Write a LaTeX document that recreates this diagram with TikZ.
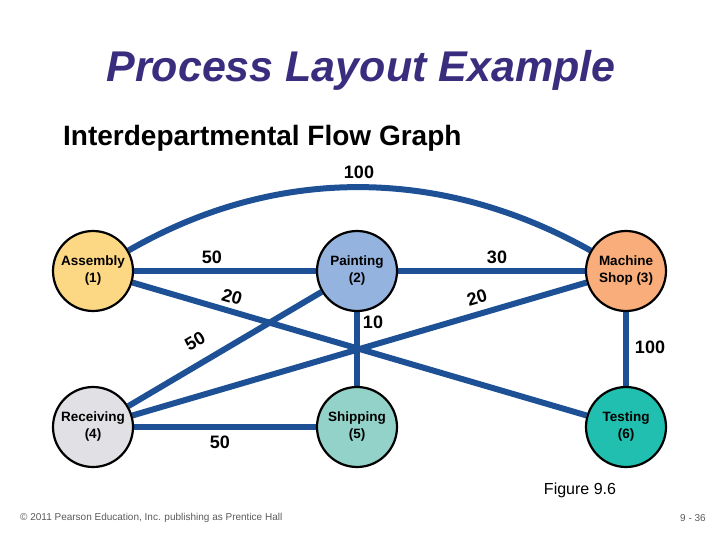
\documentclass[tikz,border=0pt]{standalone}
\usepackage{fontspec}
\setmainfont{Liberation Sans}
\usetikzlibrary{backgrounds}
\definecolor{titlecol}{RGB}{58,45,126}
\definecolor{flow}{RGB}{30,80,150}
\definecolor{cAssembly}{RGB}{253,216,132}
\definecolor{cPainting}{RGB}{148,179,222}
\definecolor{cMachine}{RGB}{249,173,122}
\definecolor{cReceiving}{RGB}{225,225,229}
\definecolor{cShipping}{RGB}{147,210,200}
\definecolor{cTesting}{RGB}{33,191,175}
\definecolor{footgrey}{RGB}{90,90,90}
\tikzset{
  dept/.style={circle, draw=black, line width=2.2pt, minimum size=80pt, inner sep=0pt,
    align=center, font=\fontsize{13.5}{17}\selectfont\bfseries},
  flowline/.style={draw=flow, line width=6pt},
  flowlabel/.style={font=\fontsize{18}{20}\selectfont\bfseries, inner sep=0pt},
  foot/.style={font=\fontsize{10}{12}\selectfont, text=footgrey, inner sep=0pt},
}
\begin{document}
\begin{tikzpicture}[x=1pt,y=-1pt]
\useasboundingbox (0,0) rectangle (720,540);
% titles
\node[font=\fontsize{43}{48}\selectfont\bfseries\itshape, text=titlecol] (title) at (361,70) {Process Layout Example};
\node[font=\fontsize{28}{32}\selectfont\bfseries, anchor=west, inner sep=0pt] (sub) at (63,138) {Interdepartmental Flow Graph};
% departments
\node[dept, fill=cAssembly] (a) at (93,271) {Assembly\\(1)};
\node[dept, fill=cPainting] (b) at (357,271) {Painting\\(2)};
\node[dept, fill=cMachine] (c) at (626,271) {Machine\\Shop (3)};
\node[dept, fill=cReceiving] (d) at (93,427) {Receiving\\(4)};
\node[dept, fill=cShipping] (e) at (357,427) {Shipping\\(5)};
\node[dept, fill=cTesting] (f) at (626,427) {Testing\\(6)};
% connectors
\begin{scope}[on background layer]
\draw[flowline] (a) -- (b);
\draw[flowline] (b) -- (c);
\draw[flowline] (a.30) .. controls (275,166) and (440,166) .. (c.150);
\draw[flowline] (a) -- (f);
\draw[flowline] (d) -- (b);
\draw[flowline] (d) -- (c);
\draw[flowline] (b) -- (e);
\draw[flowline] (c) -- (f);
\draw[flowline] (d) -- (e);
\end{scope}
% flow labels
\node[flowlabel] (l13) at (359,172) {100};
\node[flowlabel] (l12) at (212,257) {50};
\node[flowlabel] (l23) at (497,257) {30};
\node[flowlabel, rotate=-16] (l16) at (232,297) {20};
\node[flowlabel, rotate=30] (l42) at (195,341) {50};
\node[flowlabel, rotate=16] (l43) at (477,298) {20};
\node[flowlabel] (l25) at (373,322) {10};
\node[flowlabel] (l36) at (650,347) {100};
\node[flowlabel] (l45) at (220,442) {50};
% captions
\node[font=\fontsize{16}{18}\selectfont, inner sep=0pt] (fig) at (580,490) {Figure 9.6};
\node[foot, anchor=west] (copy) at (20,518) {© 2011 Pearson Education, Inc. publishing as Prentice Hall};
\node[foot, anchor=east] (page) at (706,518) {9 - 36};
\end{tikzpicture}
\end{document}
